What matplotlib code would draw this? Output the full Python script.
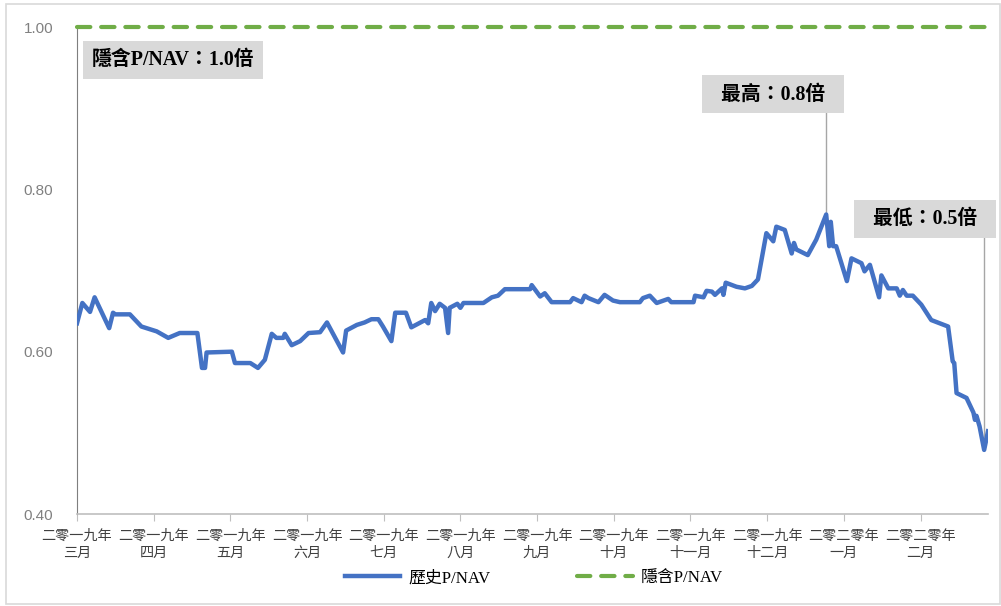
import numpy as np
import matplotlib
matplotlib.use("Agg")
import matplotlib.pyplot as plt
from matplotlib.patches import Rectangle

plt.rcParams["font.family"] = ["Liberation Sans", "Noto Sans CJK TC"]

# month index (0 = 2019-03) vs historical P/NAV
hist_x = [0.00, 0.07, 0.17, 0.23, 0.42, 0.47, 0.50, 0.69, 0.84, 1.04,
          1.19, 1.34, 1.57, 1.63, 1.67, 1.69, 2.02, 2.06, 2.26, 2.36,
          2.45, 2.54, 2.60, 2.69, 2.71, 2.80, 2.91, 3.02, 3.17, 3.26,
          3.47, 3.51, 3.65, 3.75, 3.84, 3.93, 3.99, 4.10, 4.15, 4.29,
          4.36, 4.54, 4.58, 4.62, 4.67, 4.73, 4.80, 4.84, 4.86, 4.96,
          5.00, 5.04, 5.30, 5.41, 5.49, 5.58, 5.91, 5.93, 6.04, 6.10,
          6.19, 6.43, 6.47, 6.58, 6.62, 6.67, 6.80, 6.88, 6.99, 7.08,
          7.34, 7.38, 7.47, 7.56, 7.71, 7.75, 8.04, 8.06, 8.17, 8.21,
          8.28, 8.32, 8.41, 8.43, 8.46, 8.60, 8.71, 8.80, 8.88, 8.99,
          9.08, 9.12, 9.23, 9.32, 9.35, 9.38, 9.53, 9.64, 9.77, 9.81,
          9.83, 9.86, 9.90, 10.04, 10.10, 10.23, 10.27, 10.34, 10.46, 10.49,
          10.58, 10.69, 10.73, 10.77, 10.82, 10.90, 11.01, 11.14, 11.36, 11.42,
          11.44, 11.47, 11.60, 11.69, 11.71, 11.73, 11.77, 11.83, 11.88]
hist_v = [0.635, 0.660, 0.649, 0.667, 0.629, 0.648, 0.646, 0.646, 0.631, 0.625,
          0.617, 0.623, 0.623, 0.580, 0.580, 0.599, 0.600, 0.586, 0.586, 0.580,
          0.590, 0.622, 0.617, 0.617, 0.622, 0.608, 0.613, 0.623, 0.624, 0.636,
          0.599, 0.626, 0.633, 0.636, 0.640, 0.640, 0.631, 0.613, 0.648, 0.648,
          0.630, 0.639, 0.635, 0.660, 0.650, 0.659, 0.654, 0.623, 0.654, 0.659,
          0.654, 0.660, 0.660, 0.667, 0.669, 0.677, 0.677, 0.682, 0.668, 0.672,
          0.661, 0.661, 0.666, 0.661, 0.669, 0.666, 0.661, 0.670, 0.663, 0.661,
          0.661, 0.666, 0.669, 0.660, 0.665, 0.661, 0.661, 0.669, 0.667, 0.675,
          0.674, 0.670, 0.678, 0.670, 0.685, 0.680, 0.678, 0.681, 0.689, 0.746,
          0.736, 0.754, 0.750, 0.721, 0.734, 0.726, 0.719, 0.738, 0.769, 0.730,
          0.760, 0.730, 0.730, 0.687, 0.715, 0.709, 0.699, 0.707, 0.667, 0.694,
          0.678, 0.678, 0.669, 0.676, 0.669, 0.669, 0.658, 0.639, 0.631, 0.588,
          0.586, 0.549, 0.543, 0.525, 0.516, 0.521, 0.508, 0.479, 0.502]
implied_v = 1.0

month_labels = ["二零一九年\n三月", "二零一九年\n四月", "二零一九年\n五月", "二零一九年\n六月",
                "二零一九年\n七月", "二零一九年\n八月", "二零一九年\n九月", "二零一九年\n十月",
                "二零一九年\n十一月", "二零一九年\n十二月", "二零二零年\n一月", "二零二零年\n二月"]
y_ticks = [0.40, 0.60, 0.80, 1.00]

BLUE = "#4472c4"
GREEN = "#70ad47"
SERIF = ["Liberation Serif", "Noto Sans CJK TC"]

fig = plt.figure(figsize=(10.01, 6.06), dpi=100)
ax = fig.add_axes([0.0769, 0.1518, 0.9101, 0.8036])

ax.plot(hist_x, hist_v, color=BLUE, lw=3.2, solid_joinstyle="round", label="歷史P/NAV", zorder=3)
ax.plot([hist_x[0], hist_x[-1]], [implied_v, implied_v], color=GREEN, lw=3,
        linestyle=(0, (3.2, 2.6)), dash_capstyle="round", clip_on=False,
        label="隱含P/NAV", zorder=3)

ax.set_xlim(0, 11.88)
ax.set_ylim(0.4, 1.0)
ax.set_yticks(y_ticks, [f"{v:.2f}" for v in y_ticks])
ax.set_xticks(range(len(month_labels)), month_labels)
ax.tick_params(axis="y", length=0, pad=17, labelsize=11, labelcolor="#808080")
ax.tick_params(axis="x", length=5, color="#bfbfbf", pad=6, labelsize=10.2,
               labelcolor="#404040")
for s in ["top", "right"]:
    ax.spines[s].set_visible(False)
ax.spines["left"].set_color("#7f7f7f")
ax.spines["bottom"].set_color("#bfbfbf")
ax.spines["bottom"].set_linewidth(1.2)

box = dict(boxstyle="square,pad=0.45", fc="#d9d9d9", ec="none")
ax.text(0.19, 0.959, "隱含P/NAV：1.0倍", fontsize=14.3, fontweight="bold",
        family=SERIF, va="center", ha="left", bbox=box, zorder=5)

# peak and trough callouts: box plus a thin leader line down to the point
i_max = int(np.argmax(hist_v))
i_min = int(np.argmin(hist_v))
callouts = [(i_max, "最高：0.8倍", 9.08, 0.917), (i_min, "最低：0.5倍", 11.06, 0.764)]
for i, txt, bx, by in callouts:
    ax.plot([hist_x[i], hist_x[i]], [hist_v[i], by], color="#a6a6a6", lw=1,
            clip_on=False, zorder=2)
    ax.text(bx, by, "  " + txt + "  ", fontsize=14.3, fontweight="bold", family=SERIF,
            ha="center", va="center", bbox=box, zorder=5, clip_on=False)

fig.legend(loc="center", bbox_to_anchor=(0.533, 0.046), ncol=2, frameon=False,
           prop={"family": SERIF, "size": 12.2}, handlelength=3.3,
           handletextpad=0.45, columnspacing=5.1)

fig.add_artist(Rectangle((0.006, 0.004), 0.993, 0.99, transform=fig.transFigure,
                         fill=False, ec="#d9d9d9", lw=1.2))

fig.savefig("out.png", dpi=100)
